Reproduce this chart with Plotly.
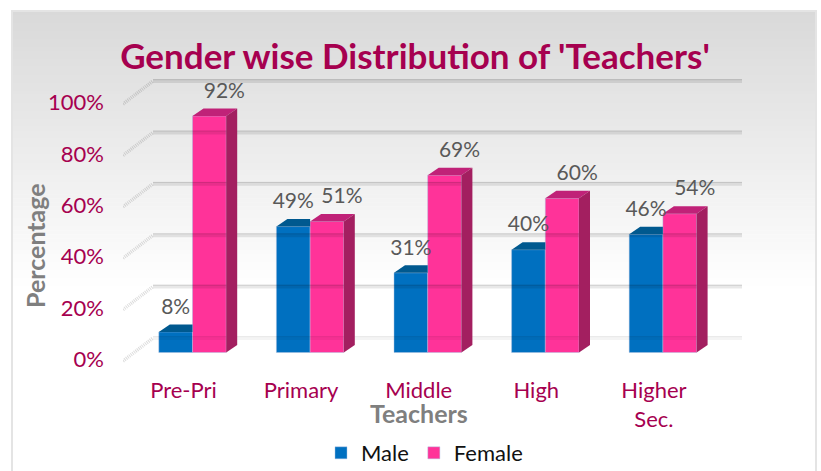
import plotly.graph_objects as go

categories = ["Pre-Pri", "Primary", "Middle", "High", "Higher<br>Sec."]
male = [8, 49, 31, 40, 46]
female = [92, 51, 69, 60, 54]
y_ticks = [0, 20, 40, 60, 80, 100]

W, H = 821, 471
PX_CAT, PX_PCT = 117.6, 2.57
BAR_W = 33.7 / PX_CAT
DX, DY = 11 / PX_CAT, 7.5 / PX_PCT
WALL_DX = 30 / PX_CAT
WALL_BACK, WALL_FRONT = 14.5 / PX_PCT, -8.5 / PX_PCT
X0, X1 = (123 - 192.5) / PX_CAT, (742 - 192.5) / PX_CAT
Y0, Y1 = (352.5 - 365) / PX_PCT, (352.5 - 75) / PX_PCT

MAROON = "#a6004f"
xs = list(range(len(categories)))
fig = go.Figure()

HALO = dict(color="rgba(170,190,225,0.45)", width=1)
fig.add_bar(x=xs, y=male, name="Male", marker=dict(color="#0070c0", line=HALO), hoverinfo="skip")
fig.add_bar(x=xs, y=female, name="Female", marker=dict(color="#ff3399", line=HALO), hoverinfo="skip")


def poly(px, py, color):
    fig.add_scatter(x=px + px[:1], y=py + py[:1], mode="lines", fill="toself", fillcolor=color,
                    line=dict(width=0, color=color), showlegend=False, hoverinfo="skip")


# back wall: grid lines and dotted side-wall lines
for v in y_ticks:
    a = 0.5 if v == 0 else 1
    by = v + WALL_BACK
    fig.add_scatter(x=[X0 + WALL_DX, X1], y=[by, by], mode="lines", showlegend=False, hoverinfo="skip",
                    line=dict(color=f"rgba(0,0,0,{0.09 * a})", width=4))
    fig.add_scatter(x=[X0 + WALL_DX, X1], y=[by + 0.5, by + 0.5], mode="lines", showlegend=False, hoverinfo="skip",
                    line=dict(color=f"rgba(0,0,0,{0.1 * a})", width=1))
    fig.add_scatter(x=[X0, X0 + WALL_DX], y=[v + WALL_FRONT, by], mode="lines", showlegend=False, hoverinfo="skip",
                    line=dict(color="rgba(0,0,0,0.14)", width=3.5, dash="1px 1px"))

# 3D faces, derived from the values
for i, (m, f) in enumerate(zip(male, female)):
    l, c, r = i - BAR_W, i, i + BAR_W
    poly([l, l + DX, c + DX if m > f else c, c], [m, m + DY, m + DY, m], "#00598f")
    poly([c, c + DX, r + DX, r], [f, f + DY, f + DY, f], "#c02278")
    poly([r, r + DX, r + DX, r], [0, DY, f + DY, f], "#a31f60")

# data labels
lab_x = [i - BAR_W / 2 for i in xs] + [i + BAR_W / 2 + 15 / PX_CAT for i in xs]
lab_y = [v + DY + 16 / PX_PCT for v in male] + [v + DY + 16 / PX_PCT for v in female]
lab_t = [f"{v}%" for v in male + female]
fig.add_scatter(x=lab_x, y=lab_y, text=lab_t, mode="text", textposition="middle center", showlegend=False,
                hoverinfo="skip", textfont=dict(family="Lato", size=21, color="#595959"))

# panel gradient
shapes = []
TOP, FADE, N = 11, 290, 70
for k in range(N):
    y0 = TOP + (FADE - TOP) * k / N
    y1 = TOP + (FADE - TOP) * (k + 1) / N + 0.5
    g = round(217 + (255 - 217) * k / (N - 1))
    shapes.append(dict(type="rect", xref="paper", yref="paper", layer="below", x0=12 / W, x1=816 / W,
                       y0=1 - y0 / H, y1=1 - y1 / H, line_width=0, fillcolor=f"rgb({g},{g},{g})"))
shapes.append(dict(type="rect", xref="paper", yref="paper", layer="below", x0=12 / W, x1=816 / W,
                   y0=1 - 11 / H, y1=-0.01, line=dict(color="#e4e4e4", width=2), fillcolor="rgba(0,0,0,0)"))

fig.update_layout(
    width=W, height=H, margin=dict(l=0, r=0, t=0, b=0, autoexpand=False), autosize=False,
    paper_bgcolor="white", plot_bgcolor="rgba(0,0,0,0)",
    barmode="group", bargap=1 - 2 * BAR_W, bargroupgap=0,
    shapes=shapes,
    title=dict(text="<b>Gender wise Distribution of 'Teachers'</b>", x=415 / W, xanchor="center",
               y=1 - 57 / H, yanchor="middle", font=dict(family="Lato", size=35, color=MAROON)),
    xaxis=dict(domain=[123 / W, 742 / W], range=[X0, X1], tickmode="array",
               tickvals=[i - 9 / PX_CAT for i in xs], ticktext=categories, ticks="",
               showgrid=False, zeroline=False, showline=False, ticklabelstandoff=10,
               tickfont=dict(family="Lato", size=22, color=MAROON)),
    yaxis=dict(domain=[1 - 365 / H, 1 - 75 / H], range=[Y0, Y1], tickmode="array",
               tickvals=[v + WALL_FRONT + 1.6 / PX_PCT for v in y_ticks], ticktext=[f"{v}%" for v in y_ticks], ticks="",
               showgrid=False, zeroline=False, showline=False, ticklabelstandoff=18,
               tickfont=dict(family="Lato", size=22, color=MAROON)),
    legend=dict(orientation="h", x=321 / W, xanchor="left", y=1 - 453 / H, yanchor="middle",
                bgcolor="rgba(0,0,0,0)", font=dict(family="Lato", size=22, color="#111111")),
    annotations=[
        dict(text="<b>Teachers</b>", xref="paper", yref="paper", x=419 / W, y=1 - 413 / H, showarrow=False,
             xanchor="center", yanchor="middle", font=dict(family="Lato", size=25, color="#7f7f7f")),
        dict(text="<b>Percentage</b>", xref="paper", yref="paper", x=35 / W, y=1 - 246 / H, showarrow=False,
             xanchor="center", yanchor="middle", textangle=-90, font=dict(family="Lato", size=25, color="#7f7f7f")),
    ],
)

fig.write_html("out.html", config=dict(displayModeBar=False),
               post_script="document.body.style.margin='0';document.body.style.overflow='hidden';")
